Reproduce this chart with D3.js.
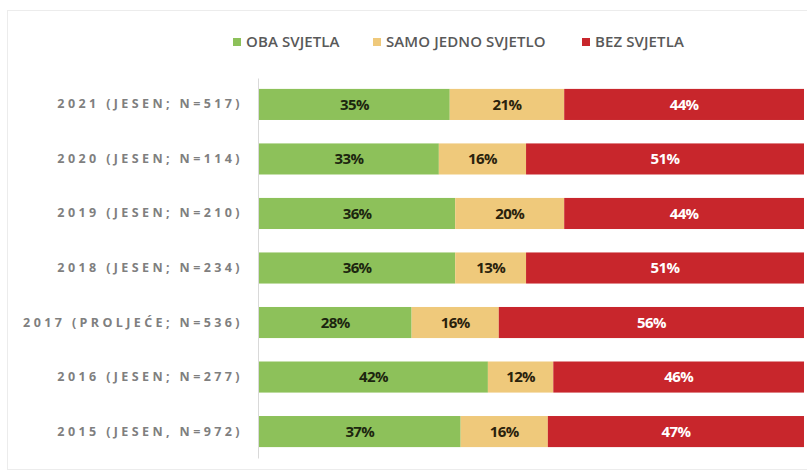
<!DOCTYPE html>
<html>
<head>
<meta charset="utf-8">
<script src="https://cdn.jsdelivr.net/npm/d3@7"></script>
<style>
  body { margin: 0; background: #fff; }
  svg { display: block; }
</style>
</head>
<body>
<div id="chart"></div>
<script>
// Data
var categories = [
  '2021 (JESEN; N=517)',
  '2020 (JESEN; N=114)',
  '2019 (JESEN; N=210)',
  '2018 (JESEN; N=234)',
  '2017 (PROLJEĆE; N=536)',
  '2016 (JESEN; N=277)',
  '2015 (JESEN, N=972)'
];
var seriesNames = ['OBA SVJETLA', 'SAMO JEDNO SVJETLO', 'BEZ SVJETLA'];
var obaSvjetla   = [35, 33, 36, 36, 28, 42, 37];
var samoJedno    = [21, 16, 20, 13, 16, 12, 16];
var bezSvjetla   = [44, 51, 44, 51, 56, 46, 47];

var colors = ['#8dc15a', '#efc97b', '#c8262c'];
var labelColors = ['#1c260f', '#2a220c', '#ffffff'];

var width = 807, height = 472;
var margin = { left: 259, right: 3, top: 78, bottom: 14 };

var svg = d3.select('#chart').append('svg')
  .attr('width', width)
  .attr('height', height);

// faint frame round the chart
svg.append('rect')
  .attr('x', 7.5).attr('y', 10.5)
  .attr('width', width + 10).attr('height', height - 13)
  .attr('fill', 'none')
  .attr('stroke', '#ececec');

// build the rows from the arrays
var rows = categories.map(function (c, i) {
  return { cat: c, values: [obaSvjetla[i], samoJedno[i], bezSvjetla[i]] };
});

var x = d3.scaleLinear()
  .domain([0, 100])
  .range([margin.left, width - margin.right]);

var y = d3.scaleBand()
  .domain(categories)
  .range([margin.top, height - margin.bottom])
  .paddingInner(0.43)
  .paddingOuter(0.2);

// category axis on the left
var yAxis = d3.axisLeft(y).tickSize(0).tickPadding(15);
var yAxisGroup = svg.append('g')
  .attr('transform', 'translate(' + (margin.left - 1) + ',0)')
  .call(yAxis);
yAxisGroup.select('.domain').attr('stroke', '#d9d9d9');
yAxisGroup.selectAll('text')
  .attr('fill', '#7f7f7f')
  .style('font-family', '"Open Sans", sans-serif')
  .style('font-weight', 'bold')
  .style('font-size', '12.5px')
  .style('letter-spacing', '3.4px');

// stacked bars
var stack = d3.stack()
  .keys([0, 1, 2])
  .value(function (d, k) { return d.values[k]; });
var layers = stack(rows);

var layerGroups = svg.selectAll('g.layer')
  .data(layers)
  .enter()
  .append('g')
  .attr('class', 'layer')
  .attr('fill', function (d, i) { return colors[i]; });

layerGroups.selectAll('rect')
  .data(function (d) { return d; })
  .enter()
  .append('rect')
  .attr('x', function (d) { return x(d[0]); })
  .attr('y', function (d) { return y(d.data.cat); })
  .attr('width', function (d) { return x(d[1]) - x(d[0]); })
  .attr('height', y.bandwidth());

layerGroups.each(function (layer, li) {
  d3.select(this).selectAll('text')
    .data(layer)
    .enter()
    .append('text')
    .attr('x', function (d) { return (x(d[0]) + x(d[1])) / 2; })
    .attr('y', function (d) { return y(d.data.cat) + y.bandwidth() / 2; })
    .attr('dy', '0.36em')
    .attr('text-anchor', 'middle')
    .attr('fill', labelColors[li])
    .style('font-family', '"Open Sans", sans-serif')
    .style('font-weight', 'bold')
    .style('font-size', '15px')
    .style('letter-spacing', '-0.6px')
    .text(function (d) { return (d[1] - d[0]) + '%'; });
});

// legend on top
var legendX = [233, 373, 582];
var legend = svg.selectAll('g.legend')
  .data(seriesNames)
  .enter()
  .append('g')
  .attr('class', 'legend')
  .attr('transform', function (d, i) { return 'translate(' + legendX[i] + ',42)'; });

legend.append('rect')
  .attr('x', 0).attr('y', -4)
  .attr('width', 8).attr('height', 8)
  .attr('fill', function (d, i) { return colors[i]; });

legend.append('text')
  .attr('x', 13)
  .attr('dy', '0.36em')
  .attr('fill', '#595959')
  .style('font-family', '"Open Sans", sans-serif')
  .style('font-weight', '600')
  .style('font-size', '15px')
  .style('letter-spacing', '0.1px')
  .text(function (d) { return d; });
</script>
</body>
</html>
